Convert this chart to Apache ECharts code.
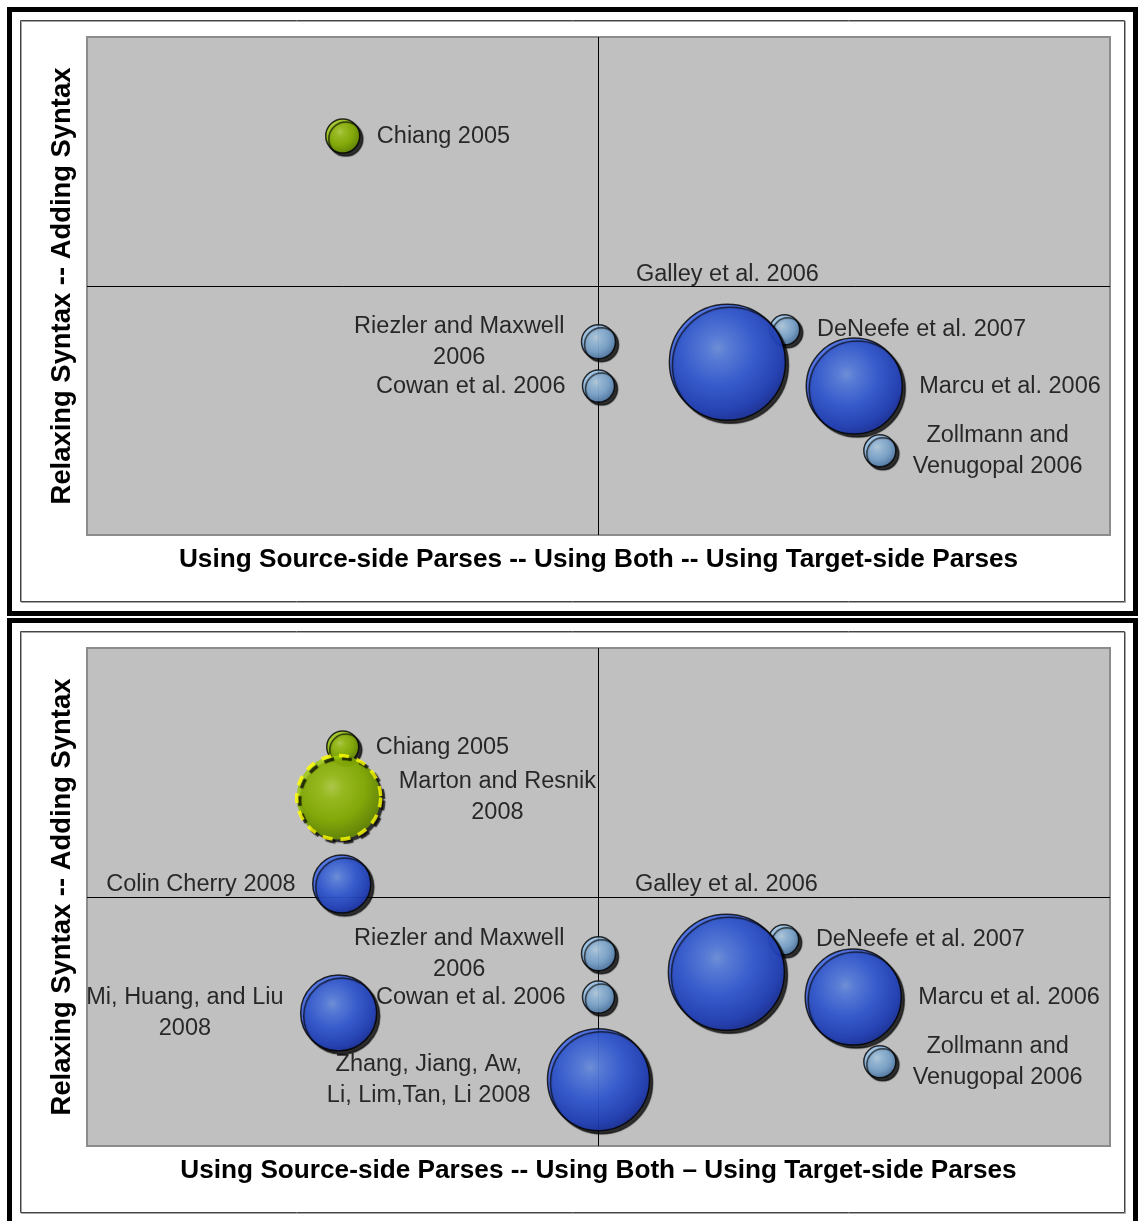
<!DOCTYPE html>
<html>
<head>
<meta charset="utf-8">
<style>
  html, body { margin: 0; padding: 0; background: #fff; }
  #chart { width: 1138px; height: 1221px; }
</style>
<script src="https://cdn.jsdelivr.net/npm/echarts@6/dist/echarts.min.js"></script>
</head>
<body>
<div id="chart"></div>
<script>
// ---------------- DATA ----------------
const xAxisTitleTop = 'Using Source-side Parses -- Using Both -- Using Target-side Parses';
const xAxisTitleBottom = 'Using Source-side Parses -- Using Both \u2013 Using Target-side Parses';
const yAxisTitle = 'Relaxing Syntax -- Adding Syntax';

// Top panel
const topNames = ['Chiang 2005', 'DeNeefe et al. 2007', 'Galley et al. 2006', 'Riezler and Maxwell\n2006',
                  'Cowan et al. 2006', 'Marcu et al. 2006', 'Zollmann and\nVenugopal 2006'];
const topX     = [-2.50, 1.82, 1.26, 0.00, 0.00, 2.50, 2.75];
const topY     = [ 3.01, -0.88, -1.53, -1.12, -2.01, -2.01, -3.31];
const topSize  = [34, 30, 116, 34, 32, 96, 32];
const topKind  = ['green', 'light', 'dark', 'light', 'light', 'dark', 'light'];

// Bottom panel
const botNames = ['Chiang 2005', 'Marton and Resnik\n2008', 'Colin Cherry 2008', 'DeNeefe et al. 2007',
                  'Galley et al. 2006', 'Riezler and Maxwell\n2006', 'Cowan et al. 2006', 'Marcu et al. 2006',
                  'Zollmann and\nVenugopal 2006', 'Mi, Huang, and Liu\n2008', 'Zhang, Jiang, Aw,\nLi, Lim,Tan, Li 2008'];
const botX     = [-2.50, -2.54, -2.51, 1.81, 1.25, 0.00, 0.00, 2.49, 2.75, -2.54, 0.00];
const botY     = [ 3.01, 2.00, 0.26, -0.86, -1.51, -1.14, -2.01, -2.01, -3.31, -2.33, -3.67];
const botSize  = [32, 84, 58, 30, 116, 34, 32, 96, 32, 76, 102];
const botKind  = ['green', 'greenDashed', 'dark', 'light', 'dark', 'light', 'light', 'dark', 'light', 'dark', 'dark'];

// ---------------- STYLE ----------------
const FONT = '"Liberation Sans", Arial, Helvetica, sans-serif';
const LABEL_SIZE = 23.5;
const LINE_H = 31;
const X_TITLE_SIZE = 26.2;
const Y_TITLE_SIZE = 27.4;

function grad(stops) {
  return { type: 'radial', x: 0.42, y: 0.38, r: 0.64,
    colorStops: stops.map(s => ({ offset: s[0], color: s[1] })) };
}
const lightGrad = () => grad([[0, '#d2ecff'], [0.2, '#b2d9fc'], [0.6, '#8cbdea'], [1, '#5884b8']]);
const darkGrad  = () => grad([[0, '#7ea6ff'], [0.15, '#628eff'], [0.5, '#3966f2'], [0.85, '#2447d2'], [1, '#1a34ac']]);
const greenGrad = () => grad([[0, '#cdec52'], [0.2, '#b2dc1e'], [0.6, '#96c600'], [1, '#6a9200']]);
const kindStyle = {
  light: { color: lightGrad(), borderColor: '#000', borderWidth: 1.5 },
  dark:  { color: darkGrad(),  borderColor: '#000', borderWidth: 1.5 },
  green: { color: greenGrad(), borderColor: '#000', borderWidth: 1.5 },
  greenDashed: { color: greenGrad(), borderColor: '#ffff00', borderWidth: 3.5, borderType: [10, 8] }
};
const placement = {
  'Chiang 2005': 'right', 'DeNeefe et al. 2007': 'right', 'Galley et al. 2006': 'top',
  'Marcu et al. 2006': 'right', 'Zollmann and\nVenugopal 2006': 'right', 'Marton and Resnik\n2008': 'right'
};

const measureCtx = document.createElement('canvas').getContext('2d');
function blockWidth(lines) {
  measureCtx.font = LABEL_SIZE + 'px ' + FONT;
  return Math.ceil(Math.max.apply(null, lines.map(l => measureCtx.measureText(l).width))) + 2;
}

function buildData(names, xs, ys, sizes, kinds) {
  return names.map((n, i) => {
    const lines = n.split('\n');
    const w = blockWidth(lines);
    const pos = placement[n] || 'left';
    return {
      name: n,
      value: [xs[i], ys[i], sizes[i]],
      itemStyle: Object.assign({ shadowColor: 'rgba(0,0,0,0.95)', shadowOffsetX: 3, shadowOffsetY: 3, shadowBlur: 1 },
                               kindStyle[kinds[i]]),
      label: {
        show: true,
        position: pos,
        distance: pos === 'top' ? 13 : 15,
        offset: [0, 1],
        formatter: lines.map(l => '{t|' + l + '}').join('\n'),
        rich: { t: { width: w, align: 'center', fontSize: LABEL_SIZE, lineHeight: LINE_H,
                     fontFamily: FONT, color: '#000' } }
      }
    };
  });
}

function axisPair(gridIndex, xTitle) {
  const common = { type: 'value', min: -5, max: 5, gridIndex: gridIndex,
    axisLine: { show: false }, axisTick: { show: false }, axisLabel: { show: false }, splitLine: { show: false },
    nameLocation: 'middle', nameGap: 12 };
  const ts = size => ({ fontSize: size, fontWeight: 'bold', fontFamily: FONT, color: '#000' });
  return {
    x: Object.assign({}, common, { name: xTitle, nameTextStyle: ts(X_TITLE_SIZE) }),
    y: Object.assign({}, common, { name: yAxisTitle, nameTextStyle: ts(Y_TITLE_SIZE), nameGap: 11 })
  };
}

const a0 = axisPair(0, xAxisTitleTop);
const a1 = axisPair(1, xAxisTitleBottom);

function seriesFor(idx, data) {
  return {
    type: 'scatter', xAxisIndex: idx, yAxisIndex: idx,
    symbol: 'circle',
    symbolSize: v => v[2],
    data: data,
    animation: false,
    emphasis: { disabled: true },
    labelLayout: { hideOverlap: false },
    markLine: {
      silent: true, symbol: 'none', z: 1, animation: false,
      label: { show: false },
      lineStyle: { color: '#000', width: 1, type: 'solid' },
      data: [{ xAxis: 0 }, { yAxis: 0 }]
    }
  };
}

const gridStyle = { show: true, backgroundColor: '#c0c0c0', borderColor: '#8c8c8c', borderWidth: 2 };

const option = {
  animation: false,
  grid: [
    Object.assign({ left: 87, top: 37, width: 1023, height: 498 }, gridStyle),
    Object.assign({ left: 87, top: 648, width: 1023, height: 498 }, gridStyle)
  ],
  xAxis: [a0.x, a1.x],
  yAxis: [a0.y, a1.y],
  graphic: [
    { type: 'rect', silent: true, shape: { x: 9.5, y: 9.5, width: 1126, height: 604 },
      style: { fill: 'none', stroke: '#000', lineWidth: 5 } },
    { type: 'rect', silent: true, shape: { x: 20.5, y: 20.5, width: 1104, height: 581 },
      style: { fill: 'none', stroke: '#444', lineWidth: 1, shadowColor: 'rgba(0,0,0,0.35)', shadowOffsetX: 1, shadowOffsetY: 1 } },
    { type: 'rect', silent: true, shape: { x: 9.5, y: 620.5, width: 1126, height: 640 },
      style: { fill: 'none', stroke: '#000', lineWidth: 5 } },
    { type: 'rect', silent: true, shape: { x: 20.5, y: 631.5, width: 1104, height: 581 },
      style: { fill: 'none', stroke: '#444', lineWidth: 1, shadowColor: 'rgba(0,0,0,0.35)', shadowOffsetX: 1, shadowOffsetY: 1 } }
  ],
  series: [
    seriesFor(0, buildData(topNames, topX, topY, topSize, topKind)),
    seriesFor(1, buildData(botNames, botX, botY, botSize, botKind))
  ]
};

const chart = echarts.init(document.getElementById('chart'), null, { renderer: 'canvas' });
chart.setOption(option);
</script>
</body>
</html>
